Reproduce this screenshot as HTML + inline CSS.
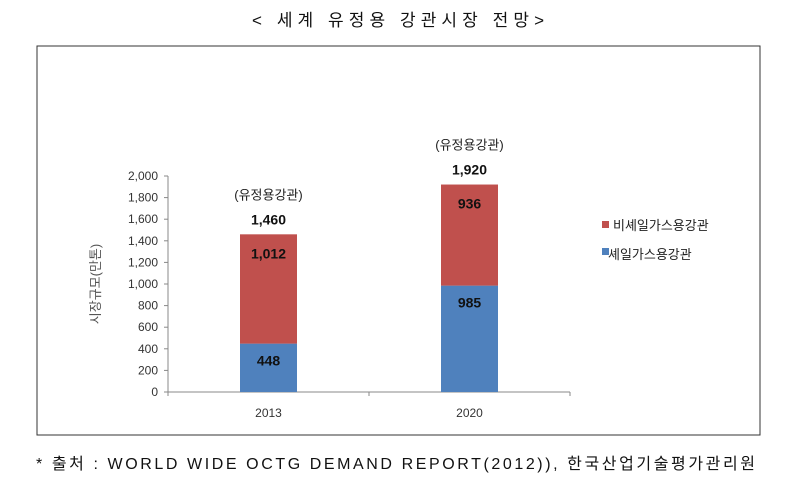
<!DOCTYPE html>
<html><head><meta charset="utf-8"><style>
body{margin:0;background:#fff;width:796px;height:481px;overflow:hidden;font-family:"Liberation Sans","Noto Sans CJK KR",sans-serif}
</style></head><body>
<svg width="796" height="481" xmlns="http://www.w3.org/2000/svg" font-family="Liberation Sans, Noto Sans CJK KR, sans-serif">
<text x="252" y="26" textLength="292" lengthAdjust="spacing" font-size="17" fill="#111">&lt; 세계  유정용  강관시장  전망&gt;</text>
<rect x="37" y="46" width="723" height="389" fill="#fff" stroke="#333" stroke-width="1"/>
<g id="chart"></g>
<text transform="translate(100,284) rotate(-90)" text-anchor="middle" font-size="13" fill="#555">시장규모(만톤)</text>
<rect x="602" y="221" width="7" height="7" fill="#c0504d"/>
<text x="613" y="230" font-size="13" fill="#222">비셰일가스용강관</text>
<rect x="602" y="248" width="7" height="7" fill="#4f81bd"/>
<text x="608" y="259" font-size="13" fill="#222">셰일가스용강관</text>
<text x="36" y="469" textLength="719" lengthAdjust="spacing" font-size="16" fill="#111">* 출처 : WORLD WIDE OCTG DEMAND REPORT(2012)), 한국산업기술평가관리원</text>
</svg>
<script>
const categories=["2013","2020"];
const shale=[448,985];
const nonShale=[1012,936];
const totals=["1,460","1,920"];
const yTicks=[0,200,400,600,800,1000,1200,1400,1600,1800,2000];
const NS="http://www.w3.org/2000/svg";
const g=document.getElementById('chart');
const x0=168,x1=570,yBase=392,yTop=176,yMax=2000;
const y=v=>yBase-(v/yMax)*(yBase-yTop);
const band=(x1-x0)/categories.length;
const cx=i=>x0+band*(i+0.5);
const bw=57;
function mk(tag,attrs,txt){const e=document.createElementNS(NS,tag);for(const k in attrs)e.setAttribute(k,attrs[k]);if(txt!==undefined)e.textContent=txt;g.appendChild(e);return e;}
const fmt=v=>v.toLocaleString('en-US');
let e;
e=mk('line',{x1:x0,y1:yTop,x2:x0,y2:yBase,stroke:'#888'});


e=mk('line',{x1:x0,y1:yBase,x2:x1,y2:yBase,stroke:'#888'});


yTicks.forEach(t=>{
 e=mk('line',{x1:x0-4,y1:y(t),x2:x0,y2:y(t),stroke:'#888'});
 
 
 e=mk('text',{x:x0-10,y:y(t)+4,'text-anchor':'end','font-size':12,fill:'#333'},fmt(t));
 
 
});
for(let i=0;i<=categories.length;i++){
 e=mk('line',{x1:x0+band*i,y1:yBase,x2:x0+band*i,y2:yBase+4,stroke:'#888'});
 
 
}
categories.forEach((c,i)=>{
 const xc=cx(i);
 e=mk('rect',{x:xc-bw/2,y:y(shale[i]),width:bw,height:yBase-y(shale[i]),fill:'#4f81bd'});
 
 
 const top=shale[i]+nonShale[i];
 e=mk('rect',{x:xc-bw/2,y:y(top),width:bw,height:y(shale[i])-y(top),fill:'#c0504d'});
 
 
 e=mk('text',{x:xc,y:y(shale[i])+22,'text-anchor':'middle','font-size':14,'font-weight':'bold',fill:'#111'},fmt(shale[i]));
 
 
 e=mk('text',{x:xc,y:y(top)+24,'text-anchor':'middle','font-size':14,'font-weight':'bold',fill:'#111'},fmt(nonShale[i]));
 
 
 e=mk('text',{x:xc,y:y(top)-10,'text-anchor':'middle','font-size':14,'font-weight':'bold',fill:'#111'},totals[i]);
 
 
 e=mk('text',{x:xc,y:y(top)-35,'text-anchor':'middle','font-size':13,fill:'#222'},'(유정용강관)');
 
 
 e=mk('text',{x:xc,y:yBase+25,'text-anchor':'middle','font-size':12,fill:'#333'},c);
 
 
});
</script>
</body></html>
